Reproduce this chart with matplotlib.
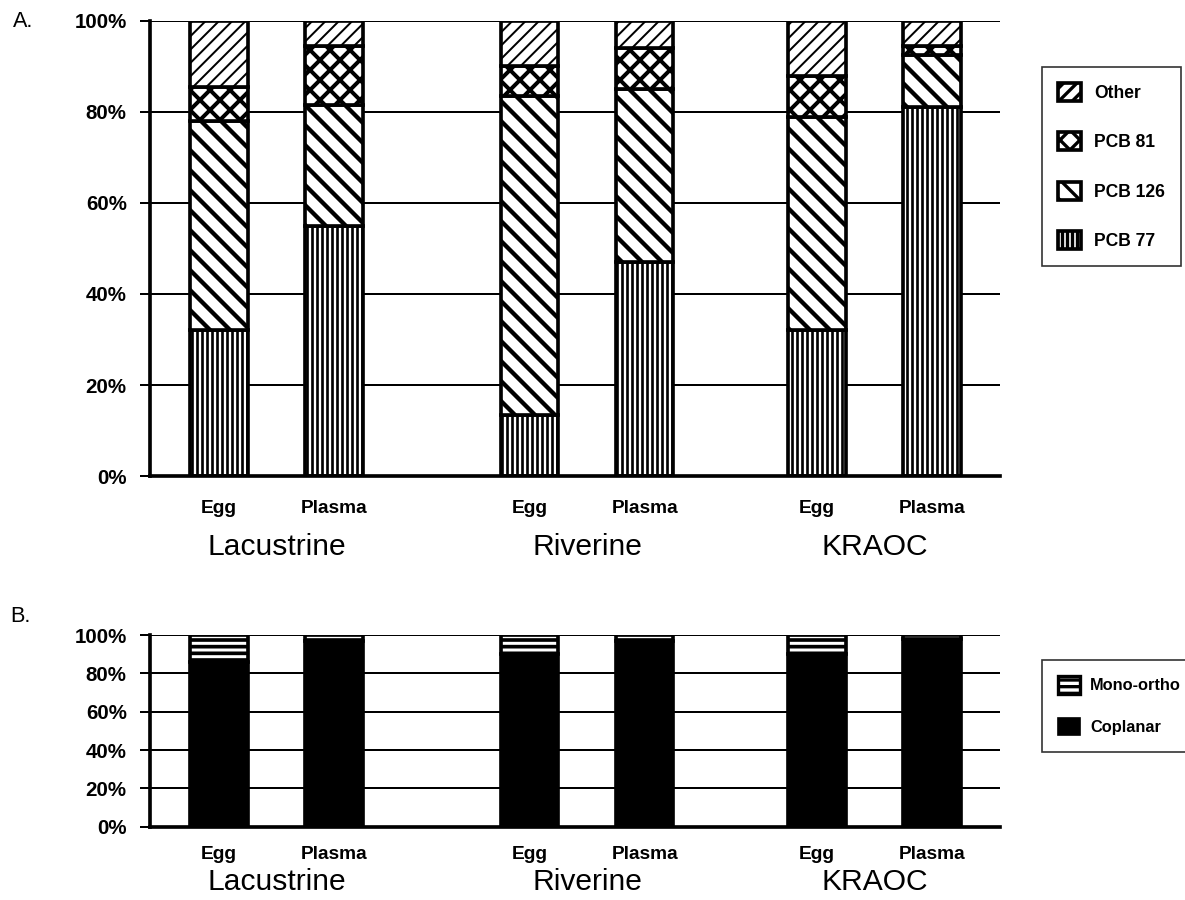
import matplotlib
matplotlib.use("Agg")
import matplotlib.pyplot as plt
from matplotlib.patches import Patch
import numpy as np

# data (percent of total)
samples = ["Egg", "Plasma", "Egg", "Plasma", "Egg", "Plasma"]
groups = ["Lacustrine", "Riverine", "KRAOC"]
pcb77 = [32, 55, 13.5, 47, 32, 81]
pcb126 = [46, 26.5, 70, 38, 47, 11.5]
pcb81 = [7.5, 13, 6.5, 9, 9, 2]
other = [14.5, 5.5, 10, 6, 12, 5.5]
coplanar = [86, 97, 90, 97, 90, 98]
mono_ortho = [14, 3, 10, 3, 10, 2]

pos = np.array([0, 1, 2.7, 3.7, 5.2, 6.2])
group_pos = [(pos[0] + pos[1]) / 2, (pos[2] + pos[3]) / 2, (pos[4] + pos[5]) / 2]

plt.rcParams['font.family'] = ['Liberation Sans', 'DejaVu Sans']
plt.rcParams['hatch.linewidth'] = 2.0

fig = plt.figure(figsize=(9.875, 7.5), dpi=120)
axA = fig.add_axes([0.1266, 0.4711, 0.7173, 0.5056])
axB = fig.add_axes([0.1266, 0.0815, 0.7173, 0.2129])


def set_hlw(bars, lw):
    for b in bars:
        if hasattr(b, "set_hatch_linewidth"):
            b.set_hatch_linewidth(lw)


def style_axes(ax, sample_y, group_y):
    ax.set_xlim(-0.6, 6.79)
    ax.set_ylim(0, 100)
    ax.set_yticks([0, 20, 40, 60, 80, 100])
    ax.set_yticklabels(["0%", "20%", "40%", "60%", "80%", "100%"],
                       fontsize=12.3, fontweight='bold')
    ax.yaxis.grid(True, color='black', linewidth=1.2)
    ax.set_axisbelow(True)
    for s in ["top", "right"]:
        ax.spines[s].set_visible(False)
    ax.spines["left"].set_linewidth(2.2)
    ax.spines["bottom"].set_linewidth(2.2)
    ax.tick_params(axis='y', direction='out', length=6, width=1.2, pad=8)
    ax.set_xticks([])
    for p, s in zip(pos, samples):
        ax.text(p, sample_y, s, transform=ax.get_xaxis_transform(),
                ha='center', va='baseline', fontsize=11.5, fontweight='bold')
    for gp, g in zip(group_pos, groups):
        ax.text(gp, group_y, g, transform=ax.get_xaxis_transform(),
                ha='center', va='baseline', fontsize=18)


w = 0.5
bw = 2.2
b1 = axA.bar(pos, pcb77, w, color='white', edgecolor='black', linewidth=bw,
             hatch='||||', label='PCB 77')
set_hlw(b1, 1.6)
bottom = np.array(pcb77)
b2 = axA.bar(pos, pcb126, w, bottom=bottom, color='white', edgecolor='black',
             linewidth=bw, hatch='\\\\', label='PCB 126')
set_hlw(b2, 2.6)
bottom = bottom + np.array(pcb126)
b3 = axA.bar(pos, pcb81, w, bottom=bottom, color='white', edgecolor='black',
             linewidth=bw, hatch='xx', label='PCB 81')
set_hlw(b3, 2.4)
bottom = bottom + np.array(pcb81)
b4 = axA.bar(pos, other, w, bottom=bottom, color='white', edgecolor='black',
             linewidth=bw, hatch='///', label='Other')
set_hlw(b4, 1.2)
style_axes(axA, -0.081, -0.174)

# coplanar solid, mono-ortho black with white stripes
axB.bar(pos, coplanar, w, color='black', edgecolor='black', linewidth=bw)
c2 = axB.bar(pos, mono_ortho, w, bottom=coplanar, color='black', edgecolor='white',
             linewidth=0, hatch='---')
set_hlw(c2, 1.8)
axB.bar(pos, mono_ortho, w, bottom=coplanar, fill=False, edgecolor='black',
        linewidth=bw)
style_axes(axB, -0.167, -0.33)

fig.text(0.011, 0.988, "A.", fontsize=13, ha='left', va='top')
fig.text(0.009, 0.315, "B.", fontsize=13, ha='left', va='center')

hA, lA = axA.get_legend_handles_labels()
legA = fig.legend(hA[::-1], lA[::-1], loc='upper left',
                  bbox_to_anchor=(1042 / 1185, 1 - 67 / 900),
                  frameon=True, fancybox=False, edgecolor='black',
                  prop={'weight': 'bold', 'size': 10.5},
                  handlelength=1.3, handleheight=1.2, labelspacing=1.75,
                  borderpad=0.9, handletextpad=0.8, borderaxespad=0)
legA.get_frame().set_linewidth(1.0)

mono_fill = Patch(facecolor='black', edgecolor='white', linewidth=0, hatch='---')
mono_edge = Patch(fill=False, edgecolor='black', linewidth=2.0)
cop_handle = Patch(facecolor='black', edgecolor='black')
legB = fig.legend([(mono_fill, mono_edge), cop_handle], ['Mono-ortho', 'Coplanar'],
                  loc='upper left', bbox_to_anchor=(1042 / 1185, 1 - 660 / 900),
                  frameon=True, fancybox=False, edgecolor='black',
                  prop={'weight': 'bold', 'size': 9.8},
                  handlelength=1.35, handleheight=1.25, labelspacing=1.5,
                  borderpad=1.0, handletextpad=0.6, borderaxespad=0)
legB.get_frame().set_linewidth(1.0)

fig.savefig("out.png", dpi=120)
